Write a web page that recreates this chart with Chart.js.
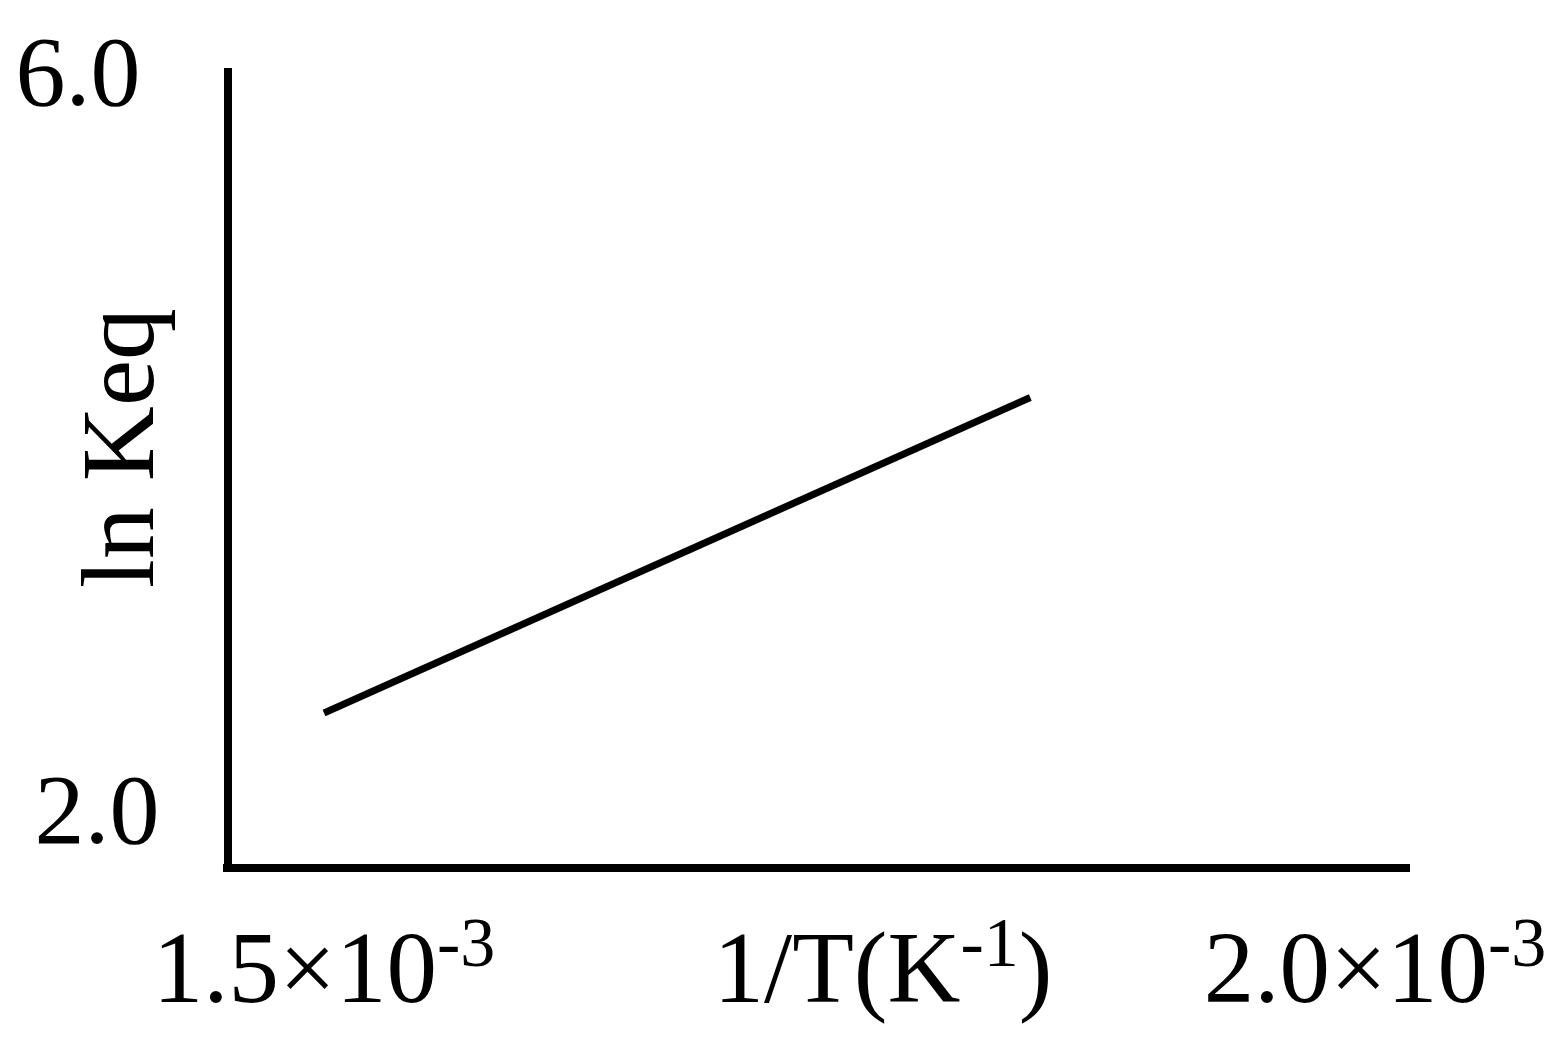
<!DOCTYPE html>
<html>
<head>
<meta charset="utf-8">
<script src="https://cdn.jsdelivr.net/npm/chart.js@4/dist/chart.umd.min.js"></script>
<style>
  html, body { margin: 0; padding: 0; background: #ffffff; }
  #wrap { width: 1568px; height: 1050px; }
</style>
</head>
<body>
<div id="wrap"><canvas id="c" width="1568" height="1050"></canvas></div>
<script>
// ---- data ----
const invT = [1.5e-3, 1.836e-3];        // 1/T (K^-1)
const lnKeq = [2.52, 4.23];              // ln Keq
const xTickValues = [1.5e-3, 2.0e-3];
const xTickMantissa = ['1.5\u00d710', '2.0\u00d710'];
const xTickExponent = ['-3', '-3'];
const yTickValues = [2.0, 6.0];
const yTickLabels = ['2.0', '6.0'];
const xTitleMain = '1/T(K';
const xTitleSup = '-1';
const xTitleTail = ')';
const yTitle = 'ln Keq';

const FONT = "'Liberation Serif', 'Times New Roman', serif";

const points = invT.map((v, i) => ({ x: v, y: lnKeq[i] }));

const axesPlugin = {
  id: 'axesPlugin',
  afterDraw(chart) {
    const ctx = chart.ctx;
    const a = chart.chartArea;
    const xs = chart.scales.x, ys = chart.scales.y;
    ctx.save();
    ctx.strokeStyle = '#000';
    ctx.fillStyle = '#000';
    ctx.lineWidth = 8;
    ctx.lineCap = 'butt';
    // y axis
    ctx.beginPath();
    ctx.moveTo(a.left, a.top);
    ctx.lineTo(a.left, a.bottom + 4);
    ctx.stroke();
    // x axis
    ctx.beginPath();
    ctx.moveTo(a.left - 5, a.bottom);
    ctx.lineTo(a.right, a.bottom);
    ctx.stroke();

    // y tick labels
    const yLabelCenters = [97, 78];
    ctx.font = '100px ' + FONT;
    ctx.textAlign = 'center';
    ctx.textBaseline = 'alphabetic';
    yTickValues.forEach((v, i) => {
      const py = ys.getPixelForValue(v);
      ctx.fillText(yTickLabels[i], yLabelCenters[i], py + 34);
    });

    // x tick labels with superscript exponent
    const baseY = 1002;
    const mainFont = '101px ' + FONT;
    const supFont = '70px ' + FONT;
    function drawSupText(parts, cx) {
      let total = 0;
      const widths = parts.map(p => {
        ctx.font = p.sup ? supFont : mainFont;
        const w = ctx.measureText(p.t).width;
        total += w;
        return w;
      });
      let x = cx - total / 2;
      ctx.textAlign = 'left';
      parts.forEach((p, i) => {
        ctx.font = p.sup ? supFont : mainFont;
        ctx.fillText(p.t, x, p.sup ? baseY - 36 : baseY);
        x += widths[i];
      });
    }
    xTickValues.forEach((v, i) => {
      const px = xs.getPixelForValue(v);
      drawSupText([{ t: xTickMantissa[i] }, { t: xTickExponent[i], sup: true }], px);
    });
    // x title
    drawSupText([{ t: xTitleMain }, { t: xTitleSup, sup: true }, { t: xTitleTail }], 883);

    // y title rotated
    ctx.save();
    ctx.translate(153, 448);
    ctx.rotate(-Math.PI / 2);
    ctx.font = '104px ' + FONT;
    ctx.textAlign = 'center';
    ctx.textBaseline = 'alphabetic';
    ctx.fillText(yTitle, 0, 0);
    ctx.restore();

    ctx.restore();
  }
};

new Chart(document.getElementById('c'), {
  type: 'scatter',
  data: {
    datasets: [{
      data: points,
      showLine: true,
      borderColor: '#000',
      borderWidth: 7,
      pointRadius: 0,
      fill: false,
      tension: 0
    }]
  },
  options: {
    responsive: false,
    animation: false,
    events: [],
    layout: { padding: { left: 228, right: 158, top: 68, bottom: 182 } },
    plugins: { legend: { display: false }, tooltip: { enabled: false } },
    scales: {
      x: { type: 'linear', display: false, min: 1.45433e-3, max: 2.01665e-3 },
      y: { type: 'linear', display: false, min: 1.680, max: 6.016 }
    }
  },
  plugins: [axesPlugin]
});
</script>
</body>
</html>
